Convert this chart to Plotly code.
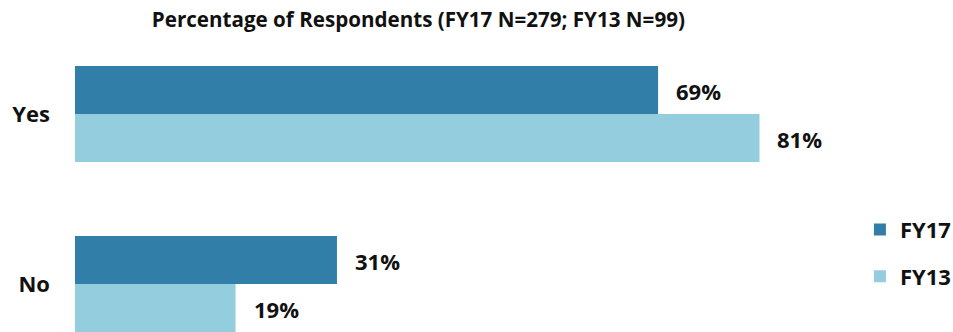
import plotly.graph_objects as go

categories = ["Yes", "No"]
series_names = ["FY17", "FY13"]
fy17_values = [69, 31]
fy13_values = [81, 19]
colors = ["#317FA8", "#93CDDE"]

FONT = "Open Sans"

fig = go.Figure()
for name, vals, col in zip(series_names, [fy17_values, fy13_values], colors):
    fig.add_trace(go.Bar(
        name=name, y=categories, x=vals, orientation="h",
        marker=dict(color=col, line=dict(width=0)),
        legendgroup=name,
    ))

# value labels placed just right of each bar end
for i, (name, vals) in enumerate(zip(series_names, [fy17_values, fy13_values])):
    for cat, v in zip(categories, vals):
        fig.add_annotation(
            x=v, y=cat, text=f"{v}%", showarrow=False,
            xanchor="left", xshift=16, yshift=23 if i == 0 else -25,
            font=dict(family=FONT, size=22, color="#111111", weight="bold"),
        )

fig.update_layout(
    width=953, height=332,
    margin=dict(l=75, r=0, t=50, b=0, autoexpand=False),
    plot_bgcolor="white", paper_bgcolor="white",
    barmode="group", bargap=0.435, bargroupgap=0,
    title=dict(
        text="Percentage of Respondents (FY17 N=279; FY13 N=99)",
        x=0.439, xanchor="center", y=0.94, yanchor="middle",
        font=dict(family=FONT, size=20.6, color="#111111", weight="bold"),
    ),
    xaxis=dict(range=[0, 103.9], domain=[0, 1], showgrid=False, zeroline=False,
               showticklabels=False, showline=False),
    yaxis=dict(range=[1.282, -0.376], showgrid=False, zeroline=False,
               showline=False, ticks="", ticklabelstandoff=24,
               tickfont=dict(family=FONT, size=22, color="#111111", weight="bold")),
    legend=dict(
        x=0.894, y=0.437, xanchor="left", yanchor="top",
        traceorder="grouped", tracegroupgap=15,
        font=dict(family=FONT, size=22, color="#111111", weight="bold"),
        itemwidth=30,
    ),
)

fig.write_html("out.html")
